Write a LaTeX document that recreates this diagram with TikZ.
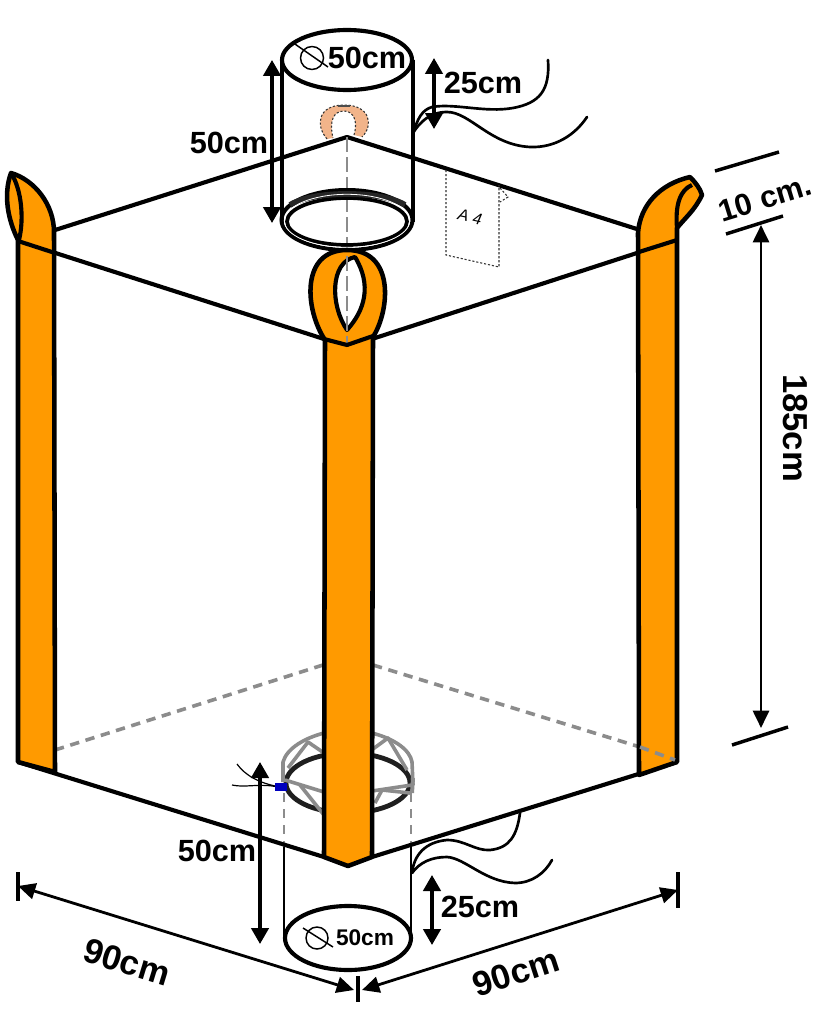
\documentclass[tikz,border=0pt]{standalone}
\usepackage{fontspec}
\setmainfont{Liberation Sans}
\usetikzlibrary{arrows.meta}
\definecolor{strap}{HTML}{FF9A00}
\definecolor{peach}{HTML}{F2B48A}
\definecolor{cage}{HTML}{8C8C8C}
\tikzset{
  bagline/.style={line width=3.1pt,black,line join=round},
  strapfill/.style={fill=strap,draw=black,line width=3.4pt,line join=round},
  wire/.style={line width=2pt,black,line cap=round},
  thinwire/.style={line width=0.9pt,black},
  dimbig/.style={line width=2.6pt,{Triangle[length=12pt,width=13pt]}-{Triangle[length=12pt,width=13pt]}},
  dimthin/.style={line width=2.1pt,{Triangle[length=13pt,width=12pt]}-{Triangle[length=13pt,width=12pt]}},
  tick/.style={line width=2.6pt,black},
  hidden/.style={cage,line width=2.7pt,dash pattern=on 7pt off 5pt},
  centreline/.style={cage,line width=1.1pt,dash pattern=on 11pt off 4pt},
  dots/.style={line width=0.8pt,black!80,dash pattern=on 1.6pt off 1.4pt},
  lbl/.style={font=\fontsize{23}{23}\selectfont\bfseries,inner sep=0pt},
  lblsmall/.style={font=\fontsize{17}{17}\selectfont\bfseries,inner sep=0pt},
  cagering/.style={cage,line width=2.7pt,line join=round}
}
\begin{document}
\begin{tikzpicture}[x=0.75pt,y=-0.75pt]
\useasboundingbox[fill=white] (0,0) rectangle (833,1024);

% bottom hidden edge, left
\draw[hidden] (55,750) -- (323,665);
\draw[hidden] (373,665) -- (640,747);

% bottom cage ring
\draw[line width=3.6pt,black!88] (348,783) ellipse (62 and 30);
\draw[cagering] (283,782) -- (283,762) .. controls (287,748) and (305,738) .. (324,733);
\draw[cagering] (372,733) .. controls (395,739) and (410,750) .. (412,762) -- (413,785);
\draw[cagering] (288,768) -- (308,742) -- (324,753);
\draw[cagering] (373,749) -- (388,738) -- (407,770);
\draw[cagering] (285,780) -- (324,792);
\draw[cagering] (300,785) -- (324,815);
\draw[cagering] (372,791) -- (412,785);
\draw[cagering] (375,803) -- (382,790) -- (410,793);
\draw[cage,line width=3pt] (413,778) -- (412,793);
\draw[hidden,line width=2.2pt] (284,793) -- (284,847);
\draw[hidden,line width=2.2pt] (411,793) -- (411,847);

% body edges
\draw[bagline] (52,231) -- (347,137) -- (640,230);
\draw[bagline] (18,241) -- (324,339);
\draw[bagline] (372,339) -- (677,240);
\draw[bagline] (18,762) -- (324,857);
\draw[bagline] (372,857) -- (677,762);

% left strap
\path[strapfill] (18,240) .. controls (8,220) and (3,195) .. (11,173) .. controls (35,180) and (54,205) .. (54,232) -- (55,772) -- (18,762) -- cycle;
\draw[bagline] (11,173) .. controls (22,190) and (24,220) .. (19,240);
\draw[bagline] (18,241) -- (55,253);

% right strap
\path[strapfill] (638,233) .. controls (640,205) and (660,184) .. (690,177) .. controls (695,182) and (700,188) .. (702,195) .. controls (695,210) and (685,218) .. (677,228) -- (677,762) -- (639,775) -- cycle;
\draw[bagline] (677,228) .. controls (675,205) and (680,190) .. (692,185);
\draw[bagline] (639,252) -- (677,240);
\draw[hidden] (640,747) -- (675,760);

% top cylinder
\draw[centreline] (347,137) -- (347,340);
\fill[peach] (327,139) .. controls (315,125) and (318,105) .. (344,105) .. controls (370,105) and (374,125) .. (362,137) -- (354,135) .. controls (358,122) and (354,111) .. (344,111) .. controls (333,111) and (329,122) .. (333,138) -- cycle;
\draw[dots] (327,139) .. controls (315,125) and (318,105) .. (344,105) .. controls (370,105) and (374,125) .. (362,137);
\draw[dots] (354,135) .. controls (358,122) and (354,111) .. (344,111) .. controls (333,111) and (329,122) .. (333,138);
\draw[line width=2.2pt,black!70] (338,106) -- (350,106);
\draw[bagline] (347,60) ellipse (65 and 30);
\draw[bagline] (282,60) -- (282,222);
\draw[bagline] (413,60) -- (413,222);
\draw[line width=3pt] (347,220) ellipse (65.5 and 30);
\draw[line width=2.8pt] (347,221.5) ellipse (60 and 23.5);
\draw[line width=4.4pt,black!85] (290,205) .. controls (305,196) and (330,194) .. (347,194) .. controls (365,194) and (390,196) .. (405,205);
\draw[white,line width=0.6pt] (347,220.8) ellipse (62.7 and 26.5);
\node[lbl] (topdia) at (367,58) {50cm};
\draw[line width=1.1pt] (312,58) circle (11.5);
\draw[line width=1.1pt] (292,42) -- (328,67);
\coordinate (tl1) at (272,60); \coordinate (tl2) at (272,223);
\draw[dimbig] (tl1) -- (tl2);
\node[lbl] (toph) at (229,143) {50cm};
\coordinate (ts1) at (434,58); \coordinate (ts2) at (434,129);
\draw[dimbig] (ts1) -- (ts2);
\node[lbl] (topt) at (483,83) {25cm};
\draw[wire] (413,133) .. controls (418,118) and (422,110) .. (432,107) .. controls (455,103) and (485,113) .. (513,108) .. controls (540,103) and (550,90) .. (548,60);
\draw[wire] (413,133) .. controls (420,122) and (430,112) .. (447,112) .. controls (470,112) and (490,145) .. (530,147) .. controls (555,148) and (575,135) .. (587,117);

% A4 label
\draw[dots] (446,170) -- (446,255) -- (499,267) -- (499,185);
\draw[dots] (500,188) -- (508,197) -- (500,202);
\node[font=\fontsize{12}{12}\selectfont\itshape,inner sep=0pt,rotate=-12] (afour) at (470,217) {A 4};

% centre strap
\path[strapfill] (325,340) .. controls (305,310) and (300,250) .. (347,250) .. controls (395,250) and (390,310) .. (373,337) -- (372,857) -- (348,866) -- (324,857) -- cycle;
\draw[bagline,fill=white] (347,330) .. controls (330,305) and (330,262) .. (355,257) .. controls (372,285) and (365,310) .. (347,330) -- cycle;
\draw[centreline] (347,256) -- (347,345);
\draw[bagline] (324,339) -- (347,345) -- (373,336);

% bottom cylinder
\draw[line width=1.9pt] (284,847) -- (284,935);
\draw[line width=1.9pt] (411,847) -- (411,935);
\draw[bagline] (348,938) ellipse (63 and 32);
\draw[line width=1.1pt] (317,938) circle (11);
\draw[line width=1.1pt] (303,928) -- (333,947);
\node[lblsmall] (botdia) at (365,938) {50cm};
\coordinate (bl1) at (260,762); \coordinate (bl2) at (260,944);
\draw[dimbig] (bl1) -- (bl2);
\node[lbl] (both) at (217,851) {50cm};
\coordinate (bs1) at (432,875); \coordinate (bs2) at (432,945);
\draw[dimbig] (bs1) -- (bs2);
\node[lbl] (bott) at (480,907) {25cm};
\draw[wire] (412,873) .. controls (414,855) and (425,842) .. (447,840) .. controls (465,840) and (475,851) .. (490,850) .. controls (510,848) and (517,835) .. (520,813);
\draw[wire] (412,873) .. controls (420,862) and (432,857) .. (447,857) .. controls (465,858) and (485,882) .. (515,883) .. controls (532,883) and (545,873) .. (552,860);

% blue tie
\draw[thinwire] (232,785) .. controls (245,788) and (260,783) .. (278,787);
\draw[thinwire] (237,764) .. controls (245,775) and (258,783) .. (280,787);
\fill[blue!75!black] (275,783) rectangle (287,791);

% dimensions
\coordinate (dl) at (18,886); \coordinate (dm) at (358,990); \coordinate (dr) at (678,890);
\draw[tick] (18,872) -- (18,901);
\draw[tick] (678,872) -- (678,908);
\draw[tick] (358,976) -- (358,1002);
\draw[dimthin] (dl) -- ([xshift=-3pt]dm);
\draw[dimthin] (dr) -- ([xshift=3pt]dm);
\node[rotate=-17,inner sep=0pt,font=\fontsize{26}{26}\selectfont\bfseries] (wl) at (127,962) {90cm};
\node[rotate=18,inner sep=0pt,font=\fontsize{26}{26}\selectfont\bfseries] (wr) at (516,972) {90cm};

\draw[tick] (715,171) -- (779,152);
\draw[tick] (726,234) -- (783,216);
\draw[tick] (732,745) -- (788,727);
\coordinate (h1) at (761,225); \coordinate (h2) at (761,728);
\draw[dimthin] (h1) -- (h2);
\node[rotate=-90,inner sep=0pt,font=\fontsize{26}{26}\selectfont\bfseries] (hh) at (795,428) {185cm};
\node[rotate=17,inner sep=0pt,font=\fontsize{23}{23}\selectfont\bfseries] (ten) at (765,198) {10 cm.};
\end{tikzpicture}
\end{document}
